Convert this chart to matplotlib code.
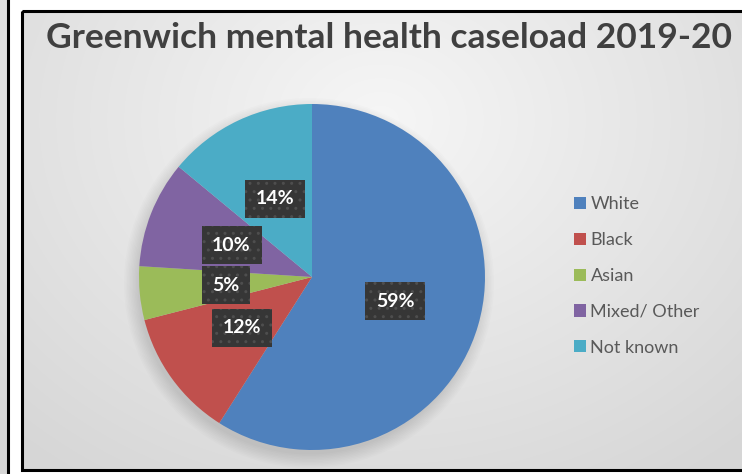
import numpy as np
import matplotlib.pyplot as plt
from matplotlib.patches import Rectangle

W, H = 742, 474
labels = ["White", "Black", "Asian", "Mixed/ Other", "Not known"]
shares = [59, 12, 5, 10, 14]
colors = ["#4f81bd", "#c0504d", "#9bbb59", "#8064a2", "#4bacc6"]
title = "Greenwich mental health caseload 2019-20"

plt.rcParams["font.family"] = ["Lato", "DejaVu Sans"]
fig = plt.figure(figsize=(W / 100, H / 100), dpi=100)
fig.patch.set_facecolor("white")

# background: panel frames and a soft radial gradient
bg = fig.add_axes([0, 0, 1, 1])
bg.set_xlim(0, W)
bg.set_ylim(H, 0)
bg.axis("off")
yy, xx = np.mgrid[0:H, 0:W]
r = np.hypot((xx - 380) / 520, (yy - 120) / 420)
shade = np.clip(0.965 - 0.12 * r, 0.84, 0.97)
img = np.dstack([shade, shade, shade])
bg.imshow(img[:, :8], extent=(0, 8, H, 0), zorder=0)
bg.imshow(img[11:471, 23:], extent=(23, W, 471, 11), zorder=0)
bg.plot([7.5, 7.5], [0, H], color="black", lw=2.2)
bg.add_patch(Rectangle((22, 11), W, 459, fill=False, ec="black", lw=2.2))

bg.text(389, 38, title, ha="center", va="center", fontsize=25.5,
        fontweight="bold", color="#404040")

# soft shadow under the pie
cx, cy, rad = 312, 277, 173
for k in range(10):
    bg.add_patch(plt.Circle((cx - 3, cy + 6), rad + 12 - k * 1.5,
                            color="black", alpha=0.012, lw=0, zorder=1))

ax = fig.add_axes([(cx - rad) / W, (H - cy - rad) / H, 2 * rad / W, 2 * rad / H])
wedges, _, autotexts = ax.pie(
    shares, colors=colors, startangle=90, counterclock=False,
    autopct=lambda p: f"{p:.0f}%", pctdistance=0.5,
    textprops=dict(color="white", fontsize=14, fontweight="bold"),
    wedgeprops=dict(linewidth=0))
for t in autotexts:
    t.set_bbox(dict(boxstyle="square,pad=0.55", fc="#363636", ec="#4e4e4e",
                    lw=0, hatch=".."))
ax.set_xlim(-1, 1)
ax.set_ylim(-1, 1)

fig.legend(wedges, labels, loc="upper left", bbox_to_anchor=(558 / W, 1 - 180 / H),
           frameon=False, fontsize=13, handlelength=0.65, handleheight=0.65,
           handletextpad=0.25, labelspacing=1.1, labelcolor="#595959")

fig.savefig("out.png", dpi=100)
